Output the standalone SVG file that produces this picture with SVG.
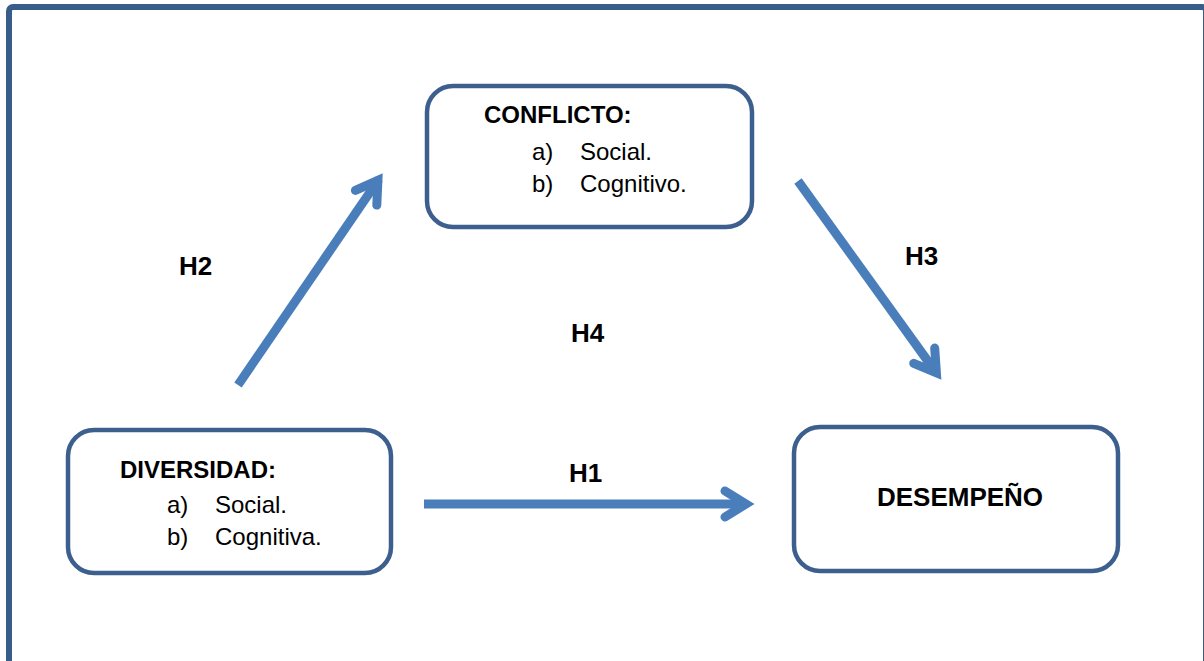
<svg xmlns="http://www.w3.org/2000/svg" width="1204" height="661" viewBox="0 0 1204 661">
<style>
.frame{fill:none;stroke:#385d8a;stroke-width:6}
.box{fill:#fff;stroke:#3c5f8e;stroke-width:4.5}
.t{font-family:"Liberation Sans",Arial,sans-serif;fill:#000}
.b{font-weight:bold}
.r{font-size:24px}
.h{font-size:26px;font-weight:bold}
.shaft{fill:none;stroke:#4a7ebb;stroke-width:9;stroke-linecap:butt}
.head{fill:none;stroke:#4a7ebb;stroke-width:9;stroke-linecap:round;stroke-linejoin:miter;stroke-miterlimit:6}
</style>
<rect width="1204" height="661" fill="#fff"/>
<rect class="frame" x="9" y="7" width="1197" height="700" rx="4"/>
<g id="connectors">
  <g id="h1-arrow">
    <line class="shaft" x1="424" y1="504" x2="744" y2="504"/>
    <polyline class="head" points="725,491 746,504 725,517"/>
  </g>
  <g id="h2-arrow">
    <line class="shaft" x1="238" y1="385" x2="379" y2="179"/>
    <polyline class="head" points="355.4,190.4 377.9,180.4 376.8,205.1"/>
  </g>
  <g id="h3-arrow">
    <line class="shaft" x1="798" y1="181" x2="935" y2="371"/>
    <polyline class="head" points="913.7,363.3 936.4,372.7 934.7,348.1"/>
  </g>
</g>
<g id="conflicto">
  <rect class="box" x="427" y="86" width="325" height="141" rx="26"/>
  <text class="t b" x="484" y="123" font-size="24">CONFLICTO:</text>
  <text class="t r" x="532" y="160">a)</text>
  <text class="t r" x="580" y="160">Social.</text>
  <text class="t r" x="532" y="192">b)</text>
  <text class="t r" x="580" y="192">Cognitivo.</text>
</g>
<g id="diversidad">
  <rect class="box" x="68" y="430" width="323" height="143" rx="26"/>
  <text class="t b" x="120" y="478" font-size="24">DIVERSIDAD:</text>
  <text class="t r" x="167" y="513">a)</text>
  <text class="t r" x="215" y="513">Social.</text>
  <text class="t r" x="167" y="545">b)</text>
  <text class="t r" x="215" y="545">Cognitiva.</text>
</g>
<g id="desempeno">
  <rect class="box" x="794" y="427" width="324" height="144" rx="26"/>
  <text class="t b" x="960" y="506" font-size="26" text-anchor="middle">DESEMPEÑO</text>
</g>
<g id="labels">
  <text class="t h" x="179" y="275">H2</text>
  <text class="t h" x="905" y="265">H3</text>
  <text class="t h" x="571" y="342">H4</text>
  <text class="t h" x="569" y="482">H1</text>
</g>
</svg>
